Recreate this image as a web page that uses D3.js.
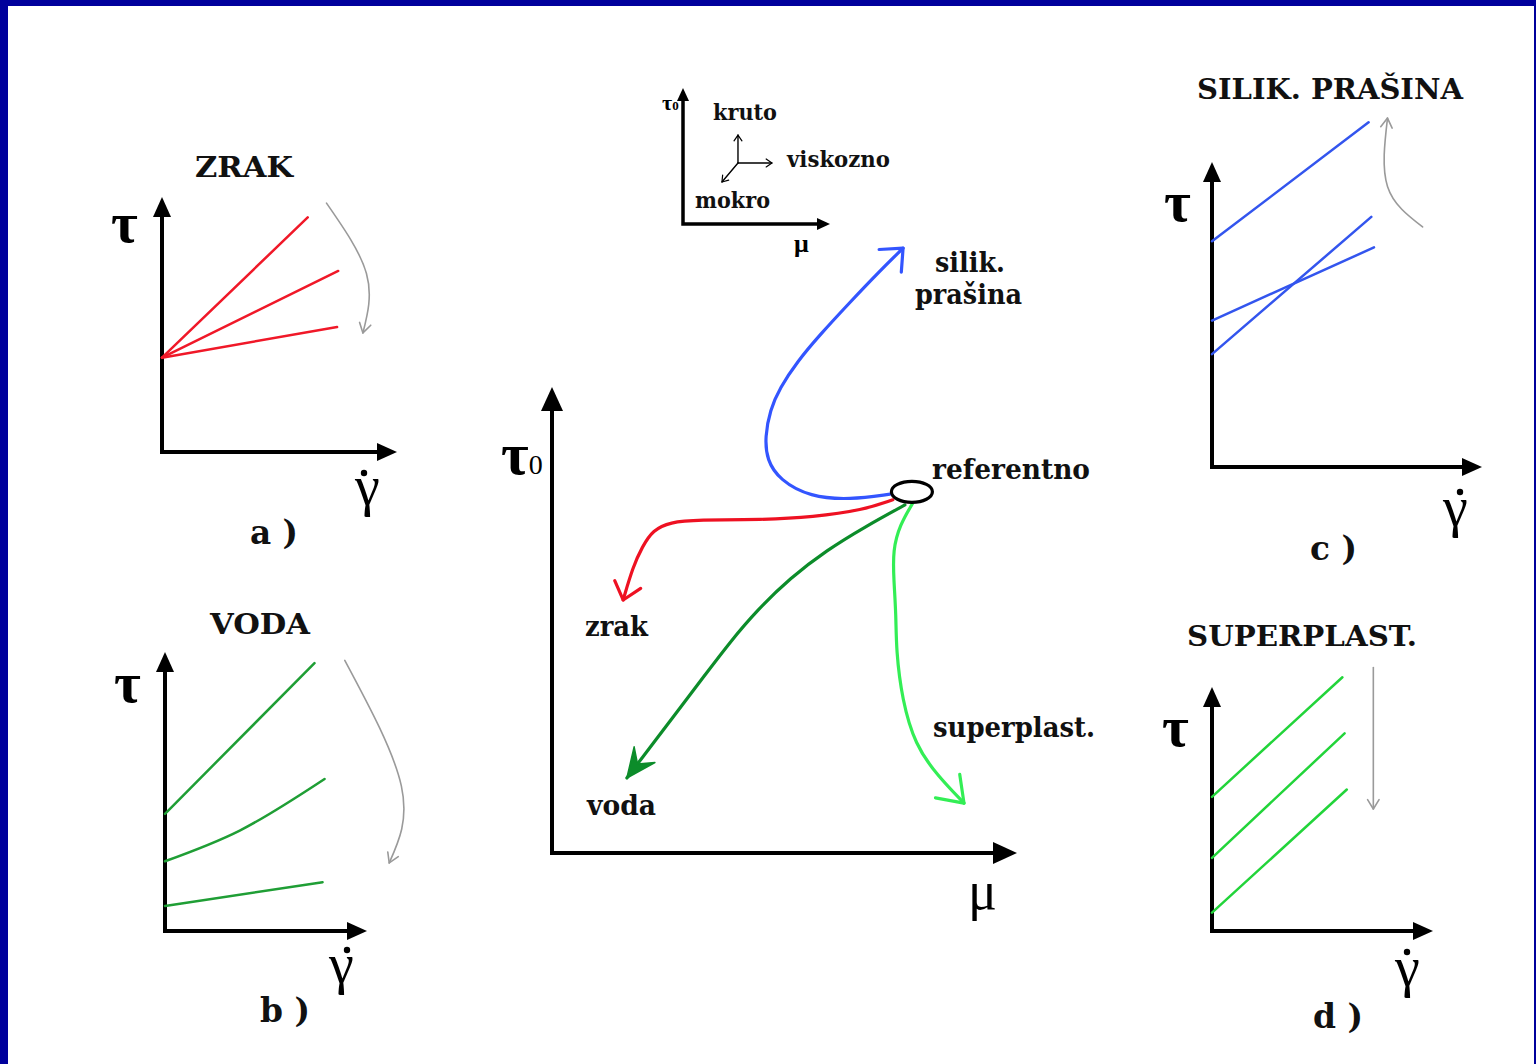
<!DOCTYPE html>
<html lang="hr">
<head>
<meta charset="UTF-8">
<title>Utjecaj dodataka na reološke parametre</title>
<script src="https://cdn.jsdelivr.net/npm/d3@7"></script>
<style>
    body { margin: 0; background: #00009c; }
    svg { display: block; }
    .lbl { font-family: "DejaVu Serif", serif; font-weight: bold; fill: #111; }
    .sym { font-family: "Liberation Serif", serif; fill: #000; }
    .tau { font-family: "Liberation Serif", serif; font-weight: bold; fill: #000; }
</style>
</head>
<body>
<svg id="chart"></svg>
<script>
"use strict";

// ---- podaci (u postocima duljine osi) ----
var panelTitles  = ["ZRAK", "VODA", "SILIK. PRAŠINA", "SUPERPLAST."];
var panelLetters = ["a )", "b )", "c )", "d )"];
var panelColors  = ["#f01828", "#1f9e35", "#3355ee", "#22d43a"];

// pravci tau(gama): [gama, tau]
var zrakLines = [
    [[0, 37], [62, 92]],
    [[0, 37], [75, 71]],
    [[0, 37], [74.5, 49]]
];
var vodaLines = [
    [[0, 42], [74, 96]],
    [[0, 25], [37, 36], [79, 54.5]],
    [[0, 9], [78, 17.5]]
];
var silikLines = [
    [[0, 74], [58, 113]],
    [[0, 48], [60, 72]],
    [[0, 37], [59, 82]]
];
var superLines = [
    [[0, 55], [59, 104]],
    [[0, 30], [60, 81]],
    [[0, 7.5], [61, 58]]
];

// sive strelice - smjer promjene
var zrakTrend  = [[70, 97.6], [87, 70], [85.5, 46.7]];
var vodaTrend  = [[89, 97], [117, 52], [111, 24.4]];
var silikTrend = [[78, 78.7], [65, 92], [65, 114.4]];
var superTrend = [[73, 108], [73, 50]];

// sredisnji dijagram tau0 - mu
var refPoint = [77.4, 77.5];
var silikPath = [[72.7, 77], [64.1, 75.8], [55.5, 76.4], [49, 80], [46.2, 84.3], [45.8, 89.3], [46.9, 95.1],
                 [49, 99.8], [52.7, 105.4], [57.6, 111.2], [64.1, 118.2], [70.1, 124.5], [75.5, 129.8]];
var zrakPath  = [[73.3, 75.8], [66.9, 73.6], [56.1, 72.1], [45.2, 71.5], [31.2, 71.5], [25.4, 71],
                 [21.7, 69.3], [19.4, 65.7], [17.4, 61.4], [15.3, 54.3]];
var vodaPath  = [[75.9, 74.7], [67.3, 70], [59.1, 65], [51.2, 59], [44.1, 52.1], [38.3, 45.3],
                 [32.9, 38.2], [27.5, 31.1], [21.5, 23.2], [16.1, 16.1]];
var superPath = [[77.6, 75.1], [74.8, 70.4], [73.3, 65], [73.5, 58.6], [74, 51.1], [74, 43.6],
                 [75.3, 32.8], [78.1, 23.2], [82.8, 16.7], [88.6, 10.7]];
var pathColors = ["#3355ff", "#ee1122", "#0c8c2a", "#33ee55"];

// mali koordinatni sustav (kruto / viskozno / mokro)
var miniOrigin = [37.4, 44.9];
var miniDirs   = [[37.4, 65.4], [60.5, 44.9], [26.5, 30.9]];
var miniWords  = ["kruto", "viskozno", "mokro"];

// ---- crtanje ----
var W = 1536, H = 1064;
var svg = d3.select("#chart").attr("width", W).attr("height", H);
svg.append("rect").attr("width", W).attr("height", H).attr("fill", "#00009c");
svg.append("rect").attr("x", 8).attr("y", 6).attr("width", 1526).attr("height", H - 6).attr("fill", "#fff");

function frame(x0, y0, x1, y1) {
    return {
        x: d3.scaleLinear().domain([0, 100]).range([x0, x1]),
        y: d3.scaleLinear().domain([0, 100]).range([y0, y1])
    };
}

function tri(tx, ty, ang, len, hw) {
    var c = Math.cos(ang), s = Math.sin(ang);
    var bx = tx - len * c, by = ty - len * s;
    return "M" + tx + "," + ty +
        "L" + (bx - hw * s) + "," + (by + hw * c) +
        "L" + (bx + hw * s) + "," + (by - hw * c) + "Z";
}

function drawAxes(f, len, hw, sw) {
    var ox = f.x(0), oy = f.y(0), tx = f.x(100), ty = f.y(100);
    var g = svg.append("g");
    g.append("path")
        .attr("d", "M" + ox + "," + (ty + len - 1) + "V" + oy + "H" + (tx - len + 1))
        .attr("fill", "none").attr("stroke", "#000").attr("stroke-width", sw);
    g.append("path").attr("d", tri(tx, oy, 0, len, hw)).attr("fill", "#000");
    g.append("path").attr("d", tri(ox, ty, -Math.PI / 2, len, hw)).attr("fill", "#000");
}

function curvePath(f, pts, color, sw, curve) {
    var line = d3.line()
        .x(function(d) { return f.x(d[0]); })
        .y(function(d) { return f.y(d[1]); })
        .curve(curve || d3.curveCatmullRom.alpha(0.5));
    return svg.append("path")
        .attr("d", line(pts))
        .attr("fill", "none")
        .attr("stroke", color)
        .attr("stroke-width", sw)
        .attr("stroke-linecap", "round")
        .attr("stroke-linejoin", "round");
}

function arrowHead(path, len, spread, color, sw, filled) {
    var node = path.node(), L = node.getTotalLength();
    var p1 = node.getPointAtLength(L), p0 = node.getPointAtLength(Math.max(0, L - 10));
    var a = Math.atan2(p0.y - p1.y, p0.x - p1.x);
    var b1 = [p1.x + len * Math.cos(a + spread), p1.y + len * Math.sin(a + spread)];
    var b2 = [p1.x + len * Math.cos(a - spread), p1.y + len * Math.sin(a - spread)];
    if (filled) {
        var n = [p1.x + len * 0.55 * Math.cos(a), p1.y + len * 0.55 * Math.sin(a)];
        svg.append("path")
            .attr("d", "M" + b1 + "L" + p1.x + "," + p1.y + "L" + b2 + "L" + n + "Z")
            .attr("fill", color).attr("stroke", color).attr("stroke-width", 1.5)
            .attr("stroke-linejoin", "round");
    } else {
        svg.append("path")
            .attr("d", "M" + b1 + "L" + p1.x + "," + p1.y + "L" + b2)
            .attr("fill", "none").attr("stroke", color).attr("stroke-width", sw)
            .attr("stroke-linecap", "round").attr("stroke-linejoin", "round");
    }
}

function label(txt, x, y, size, width, cls) {
    var t = svg.append("text")
        .attr("class", cls || "lbl")
        .attr("x", x).attr("y", y)
        .style("font-size", size + "px")
        .text(txt);
    if (width) t.attr("textLength", width).attr("lengthAdjust", "spacingAndGlyphs");
    return t;
}

// bocni paneli: osi, naslovi, oznake
var sidePanels = [
    { axes: [162, 452, 397, 197], lines: zrakLines,  trend: zrakTrend,
      title: [195, 177, 98],  letter: [250, 544, 48], tau: [111, 242], gamma: [355, 505], dot: [364, 473] },
    { axes: [165, 931, 367, 652], lines: vodaLines,  trend: vodaTrend,
      title: [210, 634, 100], letter: [260, 1022, 50], tau: [114, 702], gamma: [329, 983], dot: [347, 950] },
    { axes: [1212, 467, 1482, 162], lines: silikLines, trend: silikTrend,
      title: [1197, 99, 266], letter: [1310, 560, 47], tau: [1164, 221], gamma: [1443, 526], dot: [1460, 492] },
    { axes: [1212, 931, 1433, 687], lines: superLines, trend: superTrend,
      title: [1187, 646, 230], letter: [1313, 1028, 50], tau: [1162, 746], gamma: [1395, 986], dot: [1407, 952] }
];

sidePanels.forEach(function(p, i) {
    var f = frame(p.axes[0], p.axes[1], p.axes[2], p.axes[3]);
    drawAxes(f, 20, 9, 4);

    p.lines.forEach(function(l) { curvePath(f, l, panelColors[i], 2.5); });

    var tr = curvePath(f, p.trend, "#9a9a9a", 1.6, d3.curveNatural);
    arrowHead(tr, 11, 0.55, "#9a9a9a", 1.6, false);

    label(panelTitles[i], p.title[0], p.title[1], 27, p.title[2]);
    label(panelLetters[i], p.letter[0], p.letter[1], 34, p.letter[2]);
    label("τ", p.tau[0], p.tau[1], 58, null, "tau");
    label("γ", p.gamma[0], p.gamma[1], 56, null, "sym");
    svg.append("circle").attr("cx", p.dot[0]).attr("cy", p.dot[1]).attr("r", 3.2).attr("fill", "#000");
});

// sredisnji dijagram
var fc = frame(552, 853, 1017, 387);
drawAxes(fc, 24, 11, 4);

var heads = [
    { len: 24, spread: 0.72, filled: false },
    { len: 21, spread: 0.7,  filled: false },
    { len: 32, spread: 0.42, filled: true },
    { len: 29, spread: 0.62, filled: false }
];
[silikPath, zrakPath, vodaPath, superPath].forEach(function(pts, i) {
    var p = curvePath(fc, pts, pathColors[i], 3.2, d3.curveBasis);
    arrowHead(p, heads[i].len, heads[i].spread, pathColors[i], 3.2, heads[i].filled);
});

svg.append("ellipse")
    .attr("cx", fc.x(refPoint[0])).attr("cy", fc.y(refPoint[1]))
    .attr("rx", 20.5).attr("ry", 10.5)
    .attr("fill", "#fff").attr("stroke", "#000").attr("stroke-width", 3.2);

label("silik.", 935, 272, 27, 70);
label("prašina", 915, 304, 27, 107);
label("referentno", 932, 479, 27, 158);
label("zrak", 585, 636, 27, 63);
label("voda", 587, 815, 27, 69);
label("superplast.", 933, 737, 27, 162);

var t0 = label("τ", 501, 474, 60, null, "tau");
t0.append("tspan").style("font-size", "28px").style("font-weight", "normal").text("0");
label("μ", 968, 909, 54, null, "sym");

// mali sustav osi
var fm = frame(683, 224, 830, 88);
drawAxes(fm, 13, 6, 3.5);
var mt = label("τ", 662, 110, 22, null, "tau");
mt.append("tspan").style("font-size", "13px").text("0");
label("μ", 794, 252, 26, null, "tau");

miniDirs.forEach(function(d) {
    var p = curvePath(fm, [miniOrigin, d], "#000", 1.4);
    arrowHead(p, 7, 0.6, "#000", 1.2, false);
});
label(miniWords[0], 713, 120, 22, 64);
label(miniWords[1], 787, 167, 22, 103);
label(miniWords[2], 695, 208, 22, 75);
</script>
</body>
</html>
